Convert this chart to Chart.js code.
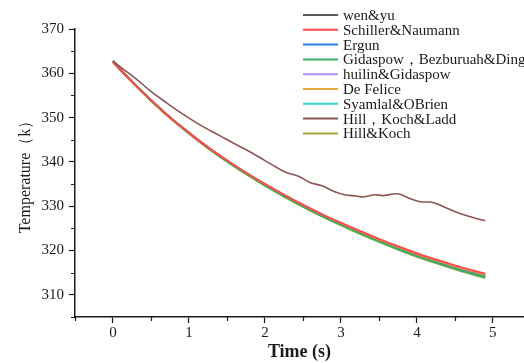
<!DOCTYPE html>
<html>
<head>
<meta charset="utf-8">
<script src="https://cdn.jsdelivr.net/npm/chart.js@4"></script>
<style>
  html, body { margin: 0; padding: 0; background: #fff; }
  #wrap { width: 524px; height: 363px; }
</style>
</head>
<body>
<div id="wrap"><canvas id="chartTemp" width="524" height="363"></canvas></div>
<script>
// Particle temperature vs time for each drag model
const time = [0, 0.25, 0.5, 0.75, 1, 1.25, 1.5, 1.75, 2, 2.25, 2.5, 2.75, 3, 3.25, 3.5, 3.75, 4, 4.25, 4.5, 4.75, 4.9];

const wenYu      = [362.8, 358.1, 353.9, 350.0, 346.5, 343.2, 340.2, 337.4, 334.8, 332.35, 330.05, 327.9, 325.9, 324.0, 322.2, 320.5, 318.9, 317.45, 316.1, 314.85, 314.15];
const schiller   = [362.6, 358.13, 353.96, 350.09, 346.62, 343.35, 340.38, 337.61, 335.04, 332.63, 330.36, 328.24, 326.27, 324.4, 322.63, 320.96, 319.39, 317.97, 316.65, 315.43, 314.75];
const ergun      = [362.6, 358.1, 353.91, 350.02, 346.52, 343.23, 340.23, 337.44, 334.84, 332.4, 330.1, 327.96, 325.96, 324.07, 322.27, 320.58, 318.98, 317.54, 316.19, 314.95, 314.25];
const gidaspowBD = [362.6, 358.09, 353.88, 349.97, 346.46, 343.15, 340.14, 337.33, 334.72, 332.26, 329.95, 327.79, 325.78, 323.87, 322.06, 320.35, 318.74, 317.28, 315.92, 314.66, 313.95];
const huilin     = [362.8, 358.11, 353.92, 350.03, 346.54, 343.25, 340.26, 337.47, 334.88, 332.44, 330.15, 328.01, 326.02, 324.13, 322.34, 320.65, 319.06, 317.62, 316.28, 315.04, 314.35];
const deFelice   = [362.6, 358.12, 353.94, 350.06, 346.58, 343.3, 340.32, 337.54, 334.96, 332.53, 330.25, 328.12, 326.14, 324.27, 322.49, 320.81, 319.23, 317.8, 316.47, 315.24, 314.55];
const syamlal    = [362.6, 358.1, 353.9, 350.0, 346.5, 343.2, 340.2, 337.4, 334.8, 332.35, 330.05, 327.9, 325.9, 324.0, 322.2, 320.5, 318.9, 317.45, 316.1, 314.85, 314.15];
const hillKoch   = [362.5, 358.08, 353.86, 349.95, 346.43, 343.11, 340.09, 337.28, 334.66, 332.19, 329.87, 327.7, 325.69, 323.77, 321.95, 320.23, 318.61, 317.15, 315.78, 314.51, 313.8];

// Hill, Koch & Ladd is sampled more finely (it wobbles)
const hklTime = [0, 0.1, 0.3, 0.5, 0.7, 0.9, 1.15, 1.4, 1.6, 1.8, 2.0, 2.2, 2.3, 2.45, 2.6, 2.75, 2.9, 3.05, 3.2, 3.3, 3.45, 3.55, 3.75, 3.9, 4.05, 4.2, 4.35, 4.55, 4.75, 4.9];
const hillKochLadd = [362.8, 361.4, 358.8, 355.9, 353.4, 351.0, 348.3, 346.0, 344.1, 342.3, 340.3, 338.3, 337.5, 336.7, 335.3, 334.6, 333.4, 332.6, 332.3, 332.1, 332.6, 332.4, 332.8, 331.8, 331.0, 330.9, 329.9, 328.5, 327.4, 326.7];

const yTicks = [310, 320, 330, 340, 350, 360, 370];
const xTicks = [0, 1, 2, 3, 4, 5];

const SERIF = "'Liberation Serif', 'Times New Roman', serif";
const INK = '#1a1a1a';

// order: higher numbers are painted first (underneath)
const series = [
    { label: 'wen&yu', data: wenYu, color: '#5a5a5a', order: 9 },
    { label: 'Schiller&Naumann', data: schiller, color: '#ff4b4b', order: 1 },
    { label: 'Ergun', data: ergun, color: '#2f7ee6', order: 2 },
    { label: 'Gidaspow，Bezburuah&Ding', data: gidaspowBD, color: '#3dae62', order: 1 },
    { label: 'huilin&Gidaspow', data: huilin, color: '#b68af0', order: 2 },
    { label: 'De Felice', data: deFelice, color: '#e2a83a', order: 1 },
    { label: 'Syamlal&OBrien', data: syamlal, color: '#35d6d2', order: 2 },
    { label: 'Hill，Koch&Ladd', data: hillKochLadd, x: hklTime, color: '#8a5555', order: 0 },
    { label: 'Hill&Koch', data: hillKoch, color: '#a9a43a', order: 1 }
];

const toPoints = (xs, ys) => ys.map((y, i) => ({ x: xs[i], y }));

// minor ticks halfway between the labelled ones
const minorTicks = {
    id: 'minorTicks',
    afterDraw(chart) {
        const { ctx, scales: { x, y } } = chart;
        ctx.save();
        ctx.strokeStyle = INK;
        ctx.lineWidth = 1.2;
        ctx.beginPath();
        for (let v = -0.5; v <= x.max; v += 1) {
            const px = Math.round(x.getPixelForValue(v)) + 0.5;
            ctx.moveTo(px, x.top);
            ctx.lineTo(px, x.top + 4);
        }
        for (let v = 305; v < 370; v += 10) {
            const py = Math.round(y.getPixelForValue(v)) + 0.5;
            ctx.moveTo(y.right, py);
            ctx.lineTo(y.right - 4, py);
        }
        ctx.stroke();
        ctx.restore();
    }
};

// legend in the top right corner; long names run off the edge
const cornerLegend = {
    id: 'cornerLegend',
    afterDraw(chart) {
        const ctx = chart.ctx;
        ctx.save();
        ctx.font = '15px ' + SERIF;
        ctx.textBaseline = 'middle';
        chart.data.datasets.forEach((ds, i) => {
            const yy = 15 + i * 14.8;
            ctx.strokeStyle = ds.borderColor;
            ctx.lineWidth = 2;
            ctx.beginPath();
            ctx.moveTo(303, yy);
            ctx.lineTo(338, yy);
            ctx.stroke();
            ctx.fillStyle = INK;
            ctx.fillText(ds.label, 343, yy + 1);
        });
        ctx.restore();
    }
};

new Chart(document.getElementById('chartTemp'), {
    type: 'line',
    data: {
        datasets: series.map(s => ({
            label: s.label,
            data: toPoints(s.x || time, s.data),
            order: s.order,
            borderColor: s.color,
            backgroundColor: s.color,
            borderWidth: s.x ? 1.6 : 2,
            pointRadius: 0,
            tension: s.x ? 0.35 : 0,
            cubicInterpolationMode: s.x ? 'default' : 'monotone',
            fill: false
        }))
    },
    options: {
        responsive: false,
        animation: false,
        events: [],
        layout: { padding: { left: 0, top: 29, right: 0, bottom: 0 } },
        plugins: { legend: { display: false }, tooltip: { enabled: false } },
        scales: {
            x: {
                type: 'linear',
                min: -0.5,
                max: 5.41,
                afterBuildTicks: (s) => { s.ticks = xTicks.map(v => ({ value: v })); },
                afterFit: (s) => { s.height = 46; },
                grid: { drawOnChartArea: false, drawTicks: true, tickLength: 6, tickColor: INK, tickWidth: 1.2 },
                border: { color: INK, width: 1.5 },
                ticks: { color: INK, padding: 1, font: { family: SERIF, size: 15 }, maxRotation: 0 },
                title: { display: true, text: 'Time (s)', color: INK, padding: { top: 0, bottom: 0 },
                         font: { family: SERIF, size: 18, weight: 'bold' } }
            },
            y: {
                min: 305,
                max: 370,
                afterBuildTicks: (s) => { s.ticks = yTicks.map(v => ({ value: v })); },
                afterFit: (s) => { s.width = 75; },
                grid: { drawOnChartArea: false, drawTicks: true, tickLength: 6, tickColor: INK, tickWidth: 1.2 },
                border: { color: INK, width: 1.5 },
                ticks: { color: INK, padding: 5, font: { family: SERIF, size: 15 } },
                title: { display: true, text: 'Temperature（k）', color: INK, padding: { top: 16, bottom: 0 },
                         font: { family: SERIF, size: 16 } }
            }
        }
    },
    plugins: [minorTicks, cornerLegend]
});
</script>
</body>
</html>
